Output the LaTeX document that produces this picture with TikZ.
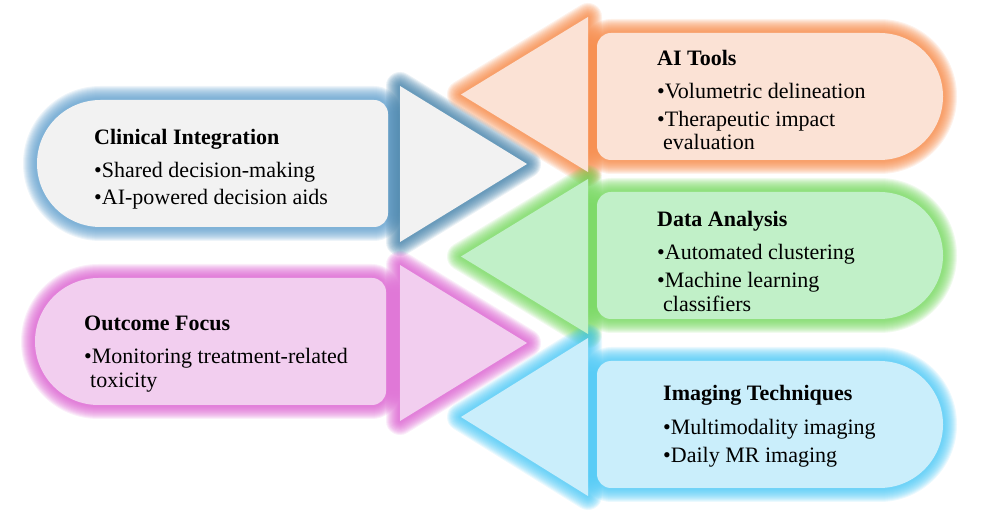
\documentclass[tikz,border=0pt]{standalone}
\usepackage{fontspec}
\setmainfont{Liberation Serif}
\definecolor{blueG}{HTML}{5A9BCB}
\definecolor{blueT}{HTML}{3C7CA6}
\definecolor{blueF}{HTML}{F2F2F2}
\definecolor{orG}{HTML}{F6843F}
\definecolor{orF}{HTML}{FBE2D5}
\definecolor{grG}{HTML}{6FD657}
\definecolor{grF}{HTML}{C1F0C8}
\definecolor{pkG}{HTML}{D95ACE}
\definecolor{pkF}{HTML}{F2CEEF}
\definecolor{cyG}{HTML}{45C6F5}
\definecolor{cyF}{HTML}{CAEEFB}
\tikzset{
  lpill/.style args={#1/#2/#3/#4}{insert path={(#1+63.5,#4) arc[start angle=90,end angle=270,radius=63.5] -- (#2-14,#3) arc[start angle=270,end angle=360,radius=14] -- (#2,#4-14) arc[start angle=0,end angle=90,radius=14] -- cycle}},
  rpill/.style args={#1/#2/#3/#4}{insert path={(#1+14,#3) -- (#2-63.5,#3) arc[start angle=270,end angle=450,radius=63.5] -- (#1+14,#4) arc[start angle=90,end angle=180,radius=14] -- (#1,#3+14) arc[start angle=180,end angle=270,radius=14] -- cycle}},
  tri/.style args={#1/#2/#3/#4}{insert path={(#1,#2) -- (#1,#3) -- (#4,#2/2+#3/2) -- cycle}},
  tit/.style={anchor=base west, inner sep=0pt, font=\fontsize{22}{24}\selectfont\bfseries},
  itm/.style={anchor=base west, inner sep=0pt, font=\fontsize{22}{24}\selectfont},
}
\newcommand\GlowOf[2]{%
  \foreach \w in {28,26,...,4}{%
    \path[draw=#1, line width=\w pt, draw opacity=.105, line join=round, #2];
  }%
}
\newcommand\FillOf[2]{\path[fill=#1, #2];}
\begin{document}
\begin{tikzpicture}[x=1pt,y=-1pt]
\useasboundingbox (0,0) rectangle (986,518);
% glows
\GlowOf{blueG}{lpill=37/388/100/227}
\GlowOf{blueT}{tri=400/86/242/527}
\GlowOf{pkG}{lpill=35/386/278/405}
\GlowOf{pkG}{tri=400/265/421/527}
\GlowOf{orG}{rpill=597/943/33/160}
\GlowOf{orG}{tri=588/17/172/461}
\GlowOf{grG}{rpill=597/943/192/319}
\GlowOf{grG}{tri=588/179/334/461}
\GlowOf{cyG}{rpill=597/943/361/488}
\GlowOf{cyG}{tri=588/338/496/461}
% fills
\FillOf{blueF}{lpill=37/388/100/227}
\FillOf{blueF}{tri=400/86/242/527}
\FillOf{pkF}{lpill=35/386/278/405}
\FillOf{pkF}{tri=400/265/421/527}
\FillOf{orF}{rpill=597/943/33/160}
\FillOf{orF}{tri=588/17/172/461}
\FillOf{grF}{rpill=597/943/192/319}
\FillOf{grF}{tri=588/179/334/461}
\FillOf{cyF}{rpill=597/943/361/488}
\FillOf{cyF}{tri=588/338/496/461}
% texts
\node[tit] (ciT) at (94,145) {Clinical Integration};
\node[itm] (ci1) at (94,178) {•Shared decision-making};
\node[itm] (ci2) at (94,205) {•AI-powered decision aids};
\node[tit] (ofT) at (84,331) {Outcome Focus};
\node[itm] (of1) at (84,364) {•Monitoring treatment-related};
\node[itm] (of2) at (90,388) {toxicity};
\node[tit] (aiT) at (657,66) {AI Tools};
\node[itm] (ai1) at (657,99) {•Volumetric delineation};
\node[itm] (ai2) at (657,127) {•Therapeutic impact};
\node[itm] (ai3) at (663,150) {evaluation};
\node[tit] (daT) at (657,227) {Data Analysis};
\node[itm] (da1) at (657,260) {•Automated clustering};
\node[itm] (da2) at (657,288) {•Machine learning};
\node[itm] (da3) at (663,312) {classifiers};
\node[tit] (imT) at (663,401) {Imaging Techniques};
\node[itm] (im1) at (663,435) {•Multimodality imaging};
\node[itm] (im2) at (663,463) {•Daily MR imaging};
\end{tikzpicture}
\end{document}
